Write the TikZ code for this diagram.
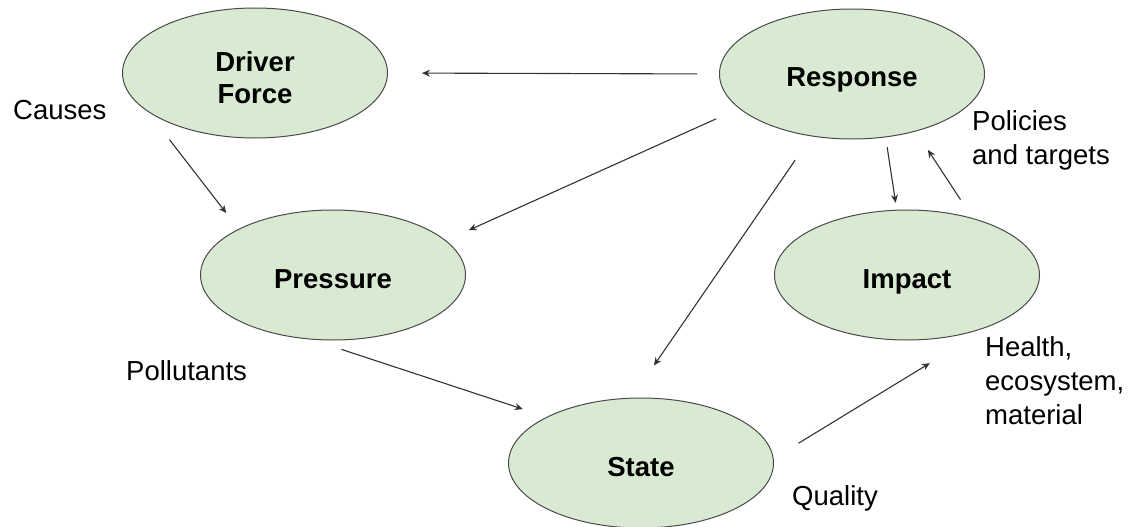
\documentclass[tikz,border=0pt]{standalone}
\usepackage{fontspec}
\setmainfont{Liberation Sans}
\usetikzlibrary{shapes.geometric,arrows.meta}
\definecolor{elfill}{HTML}{D9EAD3}
\definecolor{eldraw}{HTML}{4A4A4A}
\definecolor{arrcol}{HTML}{333333}

\begin{document}
\begin{tikzpicture}[x=1pt,y=-1pt,
    blob/.style={ellipse, draw=eldraw, line width=1pt, fill=elfill,
        minimum width=265pt, minimum height=130pt, inner sep=0pt,
        align=center, text height=26pt, text depth=0pt,
        font=\fontsize{27.5}{32}\selectfont\bfseries},
    arr/.style={draw=arrcol, line width=1.1pt, -{Stealth[length=8pt,width=7pt]}},
    lbl/.style={anchor=west, inner sep=0pt, align=left,
        font=\fontsize{27.5}{34}\selectfont}]
    \useasboundingbox (0,0) rectangle (1136,527);

    % Elipses
    \node[blob, text height=60pt] (driver) at (255,73) {Driver\\Force};
    \node[blob] (response) at (852,74)  {Response};
    \node[blob] (pressure) at (333,275) {Pressure};
    \node[blob] (impact)   at (907,275) {Impact};
    \node[blob] (state)    at (641,463) {State};

    % Flechas
    \draw[arr, shorten <=22pt, shorten >=34pt] (response.west) -- (driver.east);
    \draw[arr, shorten <=35pt, shorten >=20pt] (driver.200) -- (pressure.154);
    \draw[arr, shorten <=25pt, shorten >=25pt] (response.197) -- (pressure.17);
    \draw[arr, shorten <=10pt, shorten >=7pt] (response.298) -- (impact.99.5);
    \draw[arr, shorten <=22pt, shorten >=22pt] (impact.41.5) -- (response.318);
    \draw[arr, shorten <=29pt, shorten >=39pt] (response.237) -- (state.98);
    \draw[arr, shorten <=31pt, shorten >=25pt] (pressure.252) -- (state.154);
    \draw[arr, shorten <=29pt, shorten >=72pt] (state.2) -- (impact.329);

    % Etiquetas
    \node[lbl] (causes)     at (13,110)  {Causes};
    \node[lbl] (pollutants) at (126,371) {Pollutants};
    \node[lbl] (policies)   at (972,140) {Policies\\and targets};
    \node[lbl] (health)     at (985,381) {Health,\\ecosystem,\\material};
    \node[lbl] (quality)    at (792,498) {Quality};
\end{tikzpicture}
\end{document}
